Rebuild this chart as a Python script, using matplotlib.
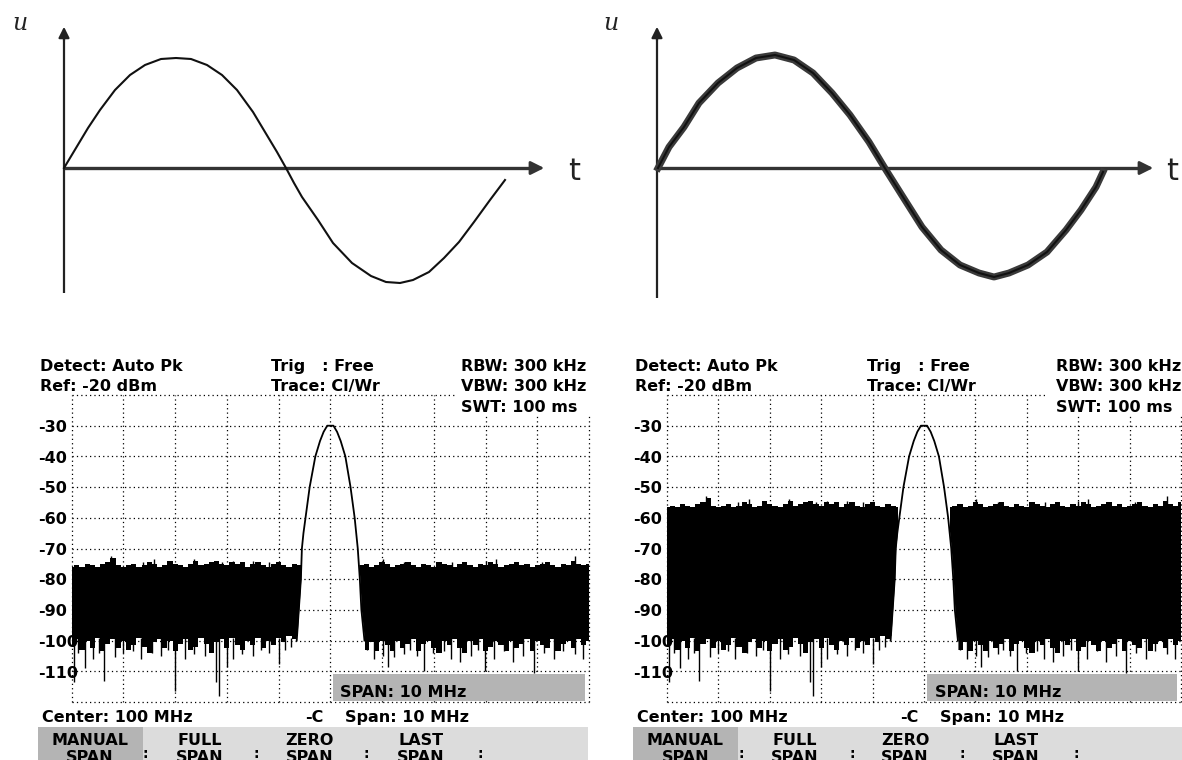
import matplotlib
matplotlib.use('Agg')
import matplotlib.pyplot as plt
from matplotlib.patches import Rectangle
import numpy as np

W, H = 1182, 760

# ---- top: sine sketches (t, u, arbitrary units) ----
clean_t = [0, 12, 24, 36, 51, 66, 81, 97, 112, 127, 143, 158, 173, 189, 204, 213, 222,
           230, 238, 254, 269, 288, 307, 322, 336, 349, 365, 380, 395, 410, 426, 441]
clean_u = [0, 20, 40, 58, 78, 93, 103, 109, 110, 109, 103, 93, 78, 56, 31, 16, 0,
           -15, -29, -52, -75, -95, -108, -114, -115, -112, -104, -90, -74, -54, -32, -12]

noisy_t = [1, 12, 27, 42, 61, 80, 99, 118, 137, 156, 175, 193, 212, 229,
           246, 265, 284, 303, 322, 337, 352, 371, 390, 409, 424, 439, 446]
noisy_u = [0, 21, 41, 65, 85, 100, 110, 113, 108, 95, 75, 53, 26, -2,
           -29, -59, -82, -97, -105, -109, -105, -97, -84, -62, -42, -19, -4]

# ---- bottom: spectrum analyser traces (MHz offset from centre, dBm) ----
peak_f = [-0.65, -0.61, -0.57, -0.55, -0.52, -0.48, -0.40, -0.29, -0.20, -0.13, -0.06,
          0.06, 0.13, 0.20, 0.29, 0.39, 0.47, 0.50, 0.53, 0.57, 0.60, 0.66]
peak_db = [-100, -90, -80, -70, -65, -60, -50, -40, -35, -32, -30,
           -30, -32, -35, -40, -50, -60, -65, -70, -80, -90, -100]

# noise bins, left and right of the carrier
bins_lo = np.linspace(-5.0, -0.5, 46)
bins_hi = np.linspace(0.5, 5.0, 46)

top1_lo = [-76, -75.5, -76, -75, -75.5, -76, -75, -74.5, -73, -75.5,
           -76, -75.5, -75, -76, -75.5, -74.5, -75, -76, -75.5, -74,
           -75, -75.5, -76, -75, -74, -75.5, -75, -74.5, -74, -75,
           -75.5, -74.5, -75, -74.5, -76, -75, -74.5, -75.5, -76, -75,
           -74.5, -75.5, -76, -75, -75.5, -76]
top1_hi = [-76, -75.5, -75, -76, -75.5, -74.5, -75, -76, -75.5, -75,
           -74.5, -75.5, -76, -75, -75.5, -76, -74.5, -75, -75.5, -76,
           -75, -74.5, -75.5, -76, -75, -75.5, -74.5, -75, -76, -75.5,
           -75, -74.5, -75.5, -75, -76, -75.5, -75, -74.5, -75.5, -76,
           -75, -75.5, -74, -75, -75.5, -75]
top2_lo = [-56.5, -56, -56.5, -55.5, -56, -56.5, -55.5, -55, -53.5, -56,
           -56.5, -56, -55.5, -56.5, -56, -55, -55.5, -56.5, -56, -54.5,
           -55.5, -56, -56.5, -55.5, -54.5, -56, -55.5, -55, -54.5, -55.5,
           -56, -55, -55.5, -55, -56.5, -55.5, -55, -56, -56.5, -55.5,
           -55, -56, -56.5, -55.5, -56, -56.5]
top2_hi = [-56.5, -56, -55.5, -56.5, -56, -55, -55.5, -56.5, -56, -55.5,
           -55, -56, -56.5, -55.5, -56, -56.5, -55, -55.5, -56, -56.5,
           -55.5, -55, -56, -56.5, -55.5, -56, -55, -55.5, -56.5, -56,
           -55.5, -55, -56, -55.5, -56.5, -56, -55.5, -55, -56, -56.5,
           -55.5, -56, -54.5, -55.5, -56, -55]
floor_lo = [-102, -99.5, -103, -100, -102.5, -99, -103.5, -101, -99.5, -102.5,
            -100, -103, -101.5, -99, -102, -104, -100.5, -99.5, -102.5, -100,
            -103.5, -101, -99.5, -103, -102, -99, -101, -104, -100.5, -99.5,
            -102.5, -99, -101.5, -103, -100, -101.5, -99, -102.5, -100, -101.5,
            -99, -100.5, -98.5, -99.5, -98.5, -98]
floor_hi = [-99.5, -101, -103, -100.5, -103.5, -100, -101.5, -103.5, -100, -102.5,
            -101, -99.5, -103.5, -101, -100, -102.5, -104, -100, -101.5, -99.5,
            -102.5, -104, -100, -101.5, -99.5, -103.5, -102, -100, -101.5, -103.5,
            -100, -102.5, -101, -99.5, -103.5, -100, -101.5, -102.5, -99.5, -103.5,
            -101, -100, -102.5, -99.5, -101.5, -100]
up1_f = [-4.24, -3.62, -3.40, -2.63, -2.10, -1.89, -1.50, -1.18, 1.01, 1.43, 2.35, 3.00, 3.20, 4.10, 4.73]
up1_db = [-72.5, -74.5, -73.5, -73.5, -74.5, -74, -74, -74.5, -73.5, -74.5, -74.5, -74, -73.5, -74.5, -72.5]
up2_f = [-4.24, -3.62, -3.40, -2.63, -2.10, -1.89, -1.50, -1.18, 1.01, 1.43, 2.35, 3.00, 3.20, 4.10, 4.73]
up2_db = [-53, -55, -54, -54, -55, -54.5, -54.5, -55, -54, -55, -55, -54.5, -54, -55, -53]
dip_f = [-4.96, -4.87, -4.74, -4.59, -4.47, -4.37, -4.16, -4.00, -3.81, -3.67,
         -3.44, -3.27, -3.13, -3.00, -2.81, -2.64, -2.42, -2.30, -2.21, -2.16,
         -2.00, -1.89, -1.70, -1.50, -1.35, -1.18, -1.00, -0.87, -0.76,
         0.71, 0.84, 1.01, 1.11, 1.24, 1.43, 1.54, 1.67, 1.81, 1.99,
         2.19, 2.33, 2.50, 2.71, 2.86, 2.99, 3.17, 3.36, 3.54, 3.73,
         3.93, 4.13, 4.32, 4.50, 4.73, 4.89]
dip_db = [-113.5, -104, -109, -106, -104, -113, -105.5, -104, -103.5, -106,
          -104, -105, -103, -116.5, -106, -104.5, -105, -103, -113.5, -118,
          -108.5, -106, -104.5, -105, -103, -104, -107.5, -103, -102,
          -103, -106, -105, -108.5, -105.5, -104.5, -103, -105, -110, -104,
          -103.5, -106, -107, -105, -103, -110, -106, -103.5, -107, -105,
          -110.5, -104, -106, -103.5, -104.5, -106]

levels = [-30, -40, -50, -60, -70, -80, -90, -100, -110]
headers = [("Detect: Auto Pk", "Ref: -20 dBm"), ("Trig   : Free", "Trace: Cl/Wr"),
           ("RBW: 300 kHz", "VBW: 300 kHz")]
softkeys = ["MANUAL", "FULL", "ZERO", "LAST"]

fig = plt.figure(figsize=(11.82, 7.6), dpi=100)
fig.patch.set_facecolor('white')
lcd = dict(family='DejaVu Sans', weight='bold', size=11.5, color='black')


def fx(x):
    return x / W


def fy(y):
    return 1 - y / H


def sketch(x_left, width, ox, t, u, noisy, v_bottom, h_end, t_gap):
    ax = fig.add_axes([fx(x_left), fy(340), width / W, 340 / H])
    ax.set_xlim(x_left - ox, x_left - ox + width)
    ax.set_ylim(-172, 168)
    ax.axis('off')
    ax.plot([0, 0], [v_bottom, 130], color='#222222', lw=1.6, solid_capstyle='butt')
    ax.annotate('', xy=(0, 144), xytext=(0, 125),
                arrowprops=dict(arrowstyle='-|>', color='#222222', lw=1.6, mutation_scale=16))
    ax.plot([0, h_end - 15], [0, 0], color='#333333', lw=2.4, solid_capstyle='butt')
    ax.annotate('', xy=(h_end, 0), xytext=(h_end - 20, 0),
                arrowprops=dict(arrowstyle='-|>', color='#333333', lw=2.0, mutation_scale=20))
    if noisy:
        ax.plot(t, u, color='#3a3a3a', lw=5.0, solid_joinstyle='round')
        ax.plot(t, u, color='#111111', lw=1.5)
    else:
        ax.plot(t, u, color='#111111', lw=1.5)
    ax.text(-44 if not noisy else -46, 145, 'u', fontsize=17, style='italic',
            family='DejaVu Serif', ha='center', va='center', color='#222222')
    ax.text(h_end + t_gap, -4, 't', fontsize=22, family='DejaVu Sans', ha='center',
            va='center', color='#222222')


sketch(0, 600, 64, clean_t, clean_u, False, -125, 483, 27)
sketch(590, 592, 657, noisy_t, noisy_u, True, -130, 499, 16)


def spectrum(x0, x1, top_lo, top_hi, up_f, up_db):
    ax = fig.add_axes([fx(x0), fy(702), (x1 - x0) / W, 307 / H])
    ax.set_xlim(-5, 5)
    ax.set_ylim(-120, -20)
    ax.axis('off')
    dot = (0, (1, 2.5))

    # noise and carrier
    ax.fill_between(bins_lo, floor_lo, top_lo, step='mid', color='black', lw=0, zorder=2)
    ax.fill_between(bins_hi, floor_hi, top_hi, step='mid', color='black', lw=0, zorder=2)
    ax.vlines(up_f, -80, up_db, color='black', lw=1.0, zorder=2)
    ax.vlines(dip_f, -99, dip_db, color='black', lw=1.0, zorder=2)
    ax.fill_between(peak_f, peak_db, -120, color='white', lw=0, zorder=2.5)
    ax.plot(peak_f, peak_db, color='black', lw=1.3, zorder=4)

    # dotted graticule
    for f in range(-5, 6):
        ax.plot([f, f], [-120, -20], color='black', lw=0.9, ls=dot, zorder=3, clip_on=False)
    for lv in range(-120, -10, 10):
        ax.plot([-5, 5], [lv, lv], color='black', lw=0.9, ls=dot, zorder=3, clip_on=False)

    # header blank area and span box
    ax.add_patch(Rectangle((2.42, -26.2), 2.8, 7.5, facecolor='white', edgecolor='none',
                           zorder=5, clip_on=False))
    ax.add_patch(Rectangle((0.05, -119.8), 4.88, 8.9, facecolor='#b4b4b4', edgecolor='none',
                           zorder=5))

    tr = fig.transFigure
    for i, (a, b) in enumerate(headers):
        xo = [-31.7, 199.6, 389.3][i]
        ax.text(fx(x0 + xo), fy(371), a, transform=tr, va='baseline', ha='left', zorder=6, **lcd)
        ax.text(fx(x0 + xo), fy(391), b, transform=tr, va='baseline', ha='left', zorder=6, **lcd)
    ax.text(fx(x0 + 389.3), fy(412), "SWT: 100 ms", transform=tr, va='baseline', ha='left',
            zorder=6, **lcd)
    for lv in levels:
        ypx = 395 + (-20 - lv) * 3.07
        ax.text(fx(x0 - 33.7), fy(ypx + 6.2), str(lv), transform=tr, va='baseline', ha='left',
                zorder=1, clip_on=False, **lcd)
    ax.text(fx(x0 + 268), fy(697), "SPAN: 10 MHz", transform=tr, va='baseline', ha='left',
            zorder=6, **lcd)
    ax.text(fx(x0 - 29.7), fy(721.7), "Center: 100 MHz", transform=tr, va='baseline',
            ha='left', zorder=6, **lcd)
    ax.text(fx(x0 + 233), fy(721.7), "-C", transform=tr, va='baseline', ha='left',
            zorder=6, **lcd)
    ax.text(fx(x0 + 273), fy(721.7), "Span: 10 MHz", transform=tr, va='baseline', ha='left',
            zorder=6, **lcd)

    # softkey bar
    fig.patches.append(Rectangle((fx(x0 - 33.7), 0), 550 / W, fy(727), transform=tr,
                                 facecolor='#dcdcdc', edgecolor='none', zorder=0))
    fig.patches.append(Rectangle((fx(x0 - 33.7), 0), 105 / W, fy(727), transform=tr,
                                 facecolor='#b4b4b4', edgecolor='none', zorder=0))
    for i, key in enumerate(softkeys):
        xc = x0 + [18.3, 128, 238, 349][i]
        fig.text(fx(xc), fy(745), key, ha='center', va='baseline', **lcd)
        fig.text(fx(xc), fy(762), "SPAN", ha='center', va='baseline', **lcd)
    for xs in [74, 185, 295, 409]:
        fig.text(fx(x0 + xs), fy(758), ":", ha='center', va='baseline',
                 family='DejaVu Sans', weight='bold', size=10, color='black')


spectrum(71.7, 589, top1_lo, top1_hi, up1_f, up1_db)
spectrum(667, 1181, top2_lo, top2_hi, up2_f, up2_db)

fig.savefig('out.png', dpi=100, facecolor='white')
